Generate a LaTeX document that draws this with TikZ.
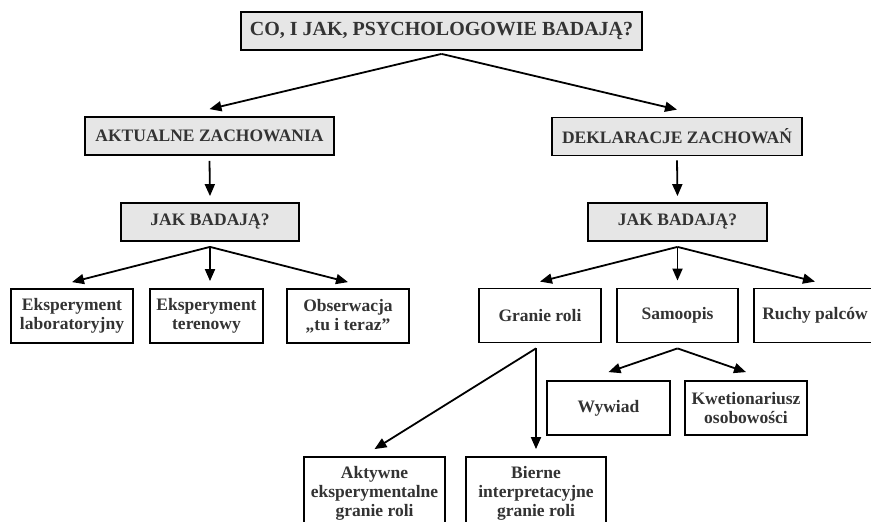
\documentclass[tikz,border=0pt]{standalone}
\usepackage{fontspec}
\setmainfont{Liberation Serif}
\usetikzlibrary{arrows.meta,calc}
\definecolor{headfill}{HTML}{E6E6E6}
\definecolor{ink}{HTML}{333333}
\begin{document}
\begin{tikzpicture}[x=1pt,y=-1pt,
  base/.style={draw=black,line width=1.8pt,inner sep=0pt,align=center,
    text=ink,font=\bfseries\fontsize{17.5}{19}\selectfont},
  head/.style={base,fill=headfill,minimum height=38pt},
  item/.style={base,fill=white},
  arr/.style={line width=1.8pt,-{Triangle[length=12pt,width=10pt]}}]
\useasboundingbox (0,0) rectangle (871,522);
\clip (0,0) rectangle (871,522);

% headings
\node[head,minimum width=401pt,font=\bfseries\fontsize{20}{22}\selectfont] (top) at (441.5,31) {CO, I JAK, PSYCHOLOGOWIE BADAJĄ?};
\node[head,minimum width=249pt] (akt) at (209.5,136) {AKTUALNE ZACHOWANIA};
\node[head,minimum width=250pt] (dek) at (677,136.5) {DEKLARACJE ZACHOWAŃ};
\node[head,minimum width=178pt] (jakl) at (210,222) {JAK BADAJĄ?};
\node[head,minimum width=179pt] (jakr) at (677.5,222) {JAK BADAJĄ?};

% methods, left branch
\node[item,minimum width=122pt,minimum height=54pt] (el) at (72,316) {Eksperyment\\laboratoryjny};
\node[item,minimum width=113pt,minimum height=54pt] (et) at (206.5,316) {Eksperyment\\terenowy};
\node[item,minimum width=122pt,minimum height=54pt] (ob) at (348,316) {Obserwacja\\„tu i teraz”};

% methods, right branch
\node[item,minimum width=122pt,minimum height=54pt] (gr) at (540,315.5) {Granie roli};
\node[item,minimum width=121pt,minimum height=54pt] (sa) at (677.5,315.5) {Samoopis};
\node[item,minimum width=122pt,minimum height=54pt] (ru) at (815,315.5) {Ruchy palców};

% self-report
\node[item,minimum width=123pt,minimum height=54pt] (wy) at (608.5,408) {Wywiad};
\node[item,minimum width=122pt,minimum height=54pt] (kw) at (746,408) {Kwetionariusz\\osobowości};

% role playing
\node[item,minimum width=141pt,minimum height=73pt] (ak) at (374.5,493.5) {Aktywne\\eksperymentalne\\granie roli};
\node[item,minimum width=140pt,minimum height=73pt] (bi) at (536,493.5) {Bierne\\interpretacyjne\\granie roli};

% branching points
\coordinate (p0) at ([yshift=-3pt]top.south);
\coordinate (p1) at ([yshift=-5pt]jakl.south);
\coordinate (p2) at ([yshift=-5pt]jakr.south);
\coordinate (p3) at ($(gr.south -| bi.north)+(0,5)$);
\coordinate (p4) at ([yshift=-5pt]sa.south);

% connectors
\draw[arr] (p0) -- ([yshift=7pt]akt.north);
\draw[arr] (p0) -- ([yshift=7pt]dek.north);
\draw[arr] ([yshift=-5pt]akt.south) -- ([yshift=6pt]jakl.north);
\draw[arr] ([yshift=-4pt]dek.south) -- ([yshift=6pt]jakr.north);
\draw[arr] (p1) -- ([yshift=6pt]el.north);
\draw[arr] (p1) -- ([yshift=7pt]jakl.south |- et.north);
\draw[arr] (p1) -- ([yshift=6pt]ob.north);
\draw[arr] (p2) -- ([yshift=6pt]gr.north);
\draw[arr] (p2) -- ([yshift=7pt]sa.north);
\draw[arr] (p2) -- ([yshift=6pt]ru.north);
\draw[arr] (p4) -- ([yshift=8pt]wy.north);
\draw[arr] (p4) -- ([yshift=8pt]kw.north);
\draw[arr] (p3) -- ([yshift=7pt]ak.north);
\draw[arr] (p3) -- ([yshift=7pt]bi.north);
\end{tikzpicture}
\end{document}
